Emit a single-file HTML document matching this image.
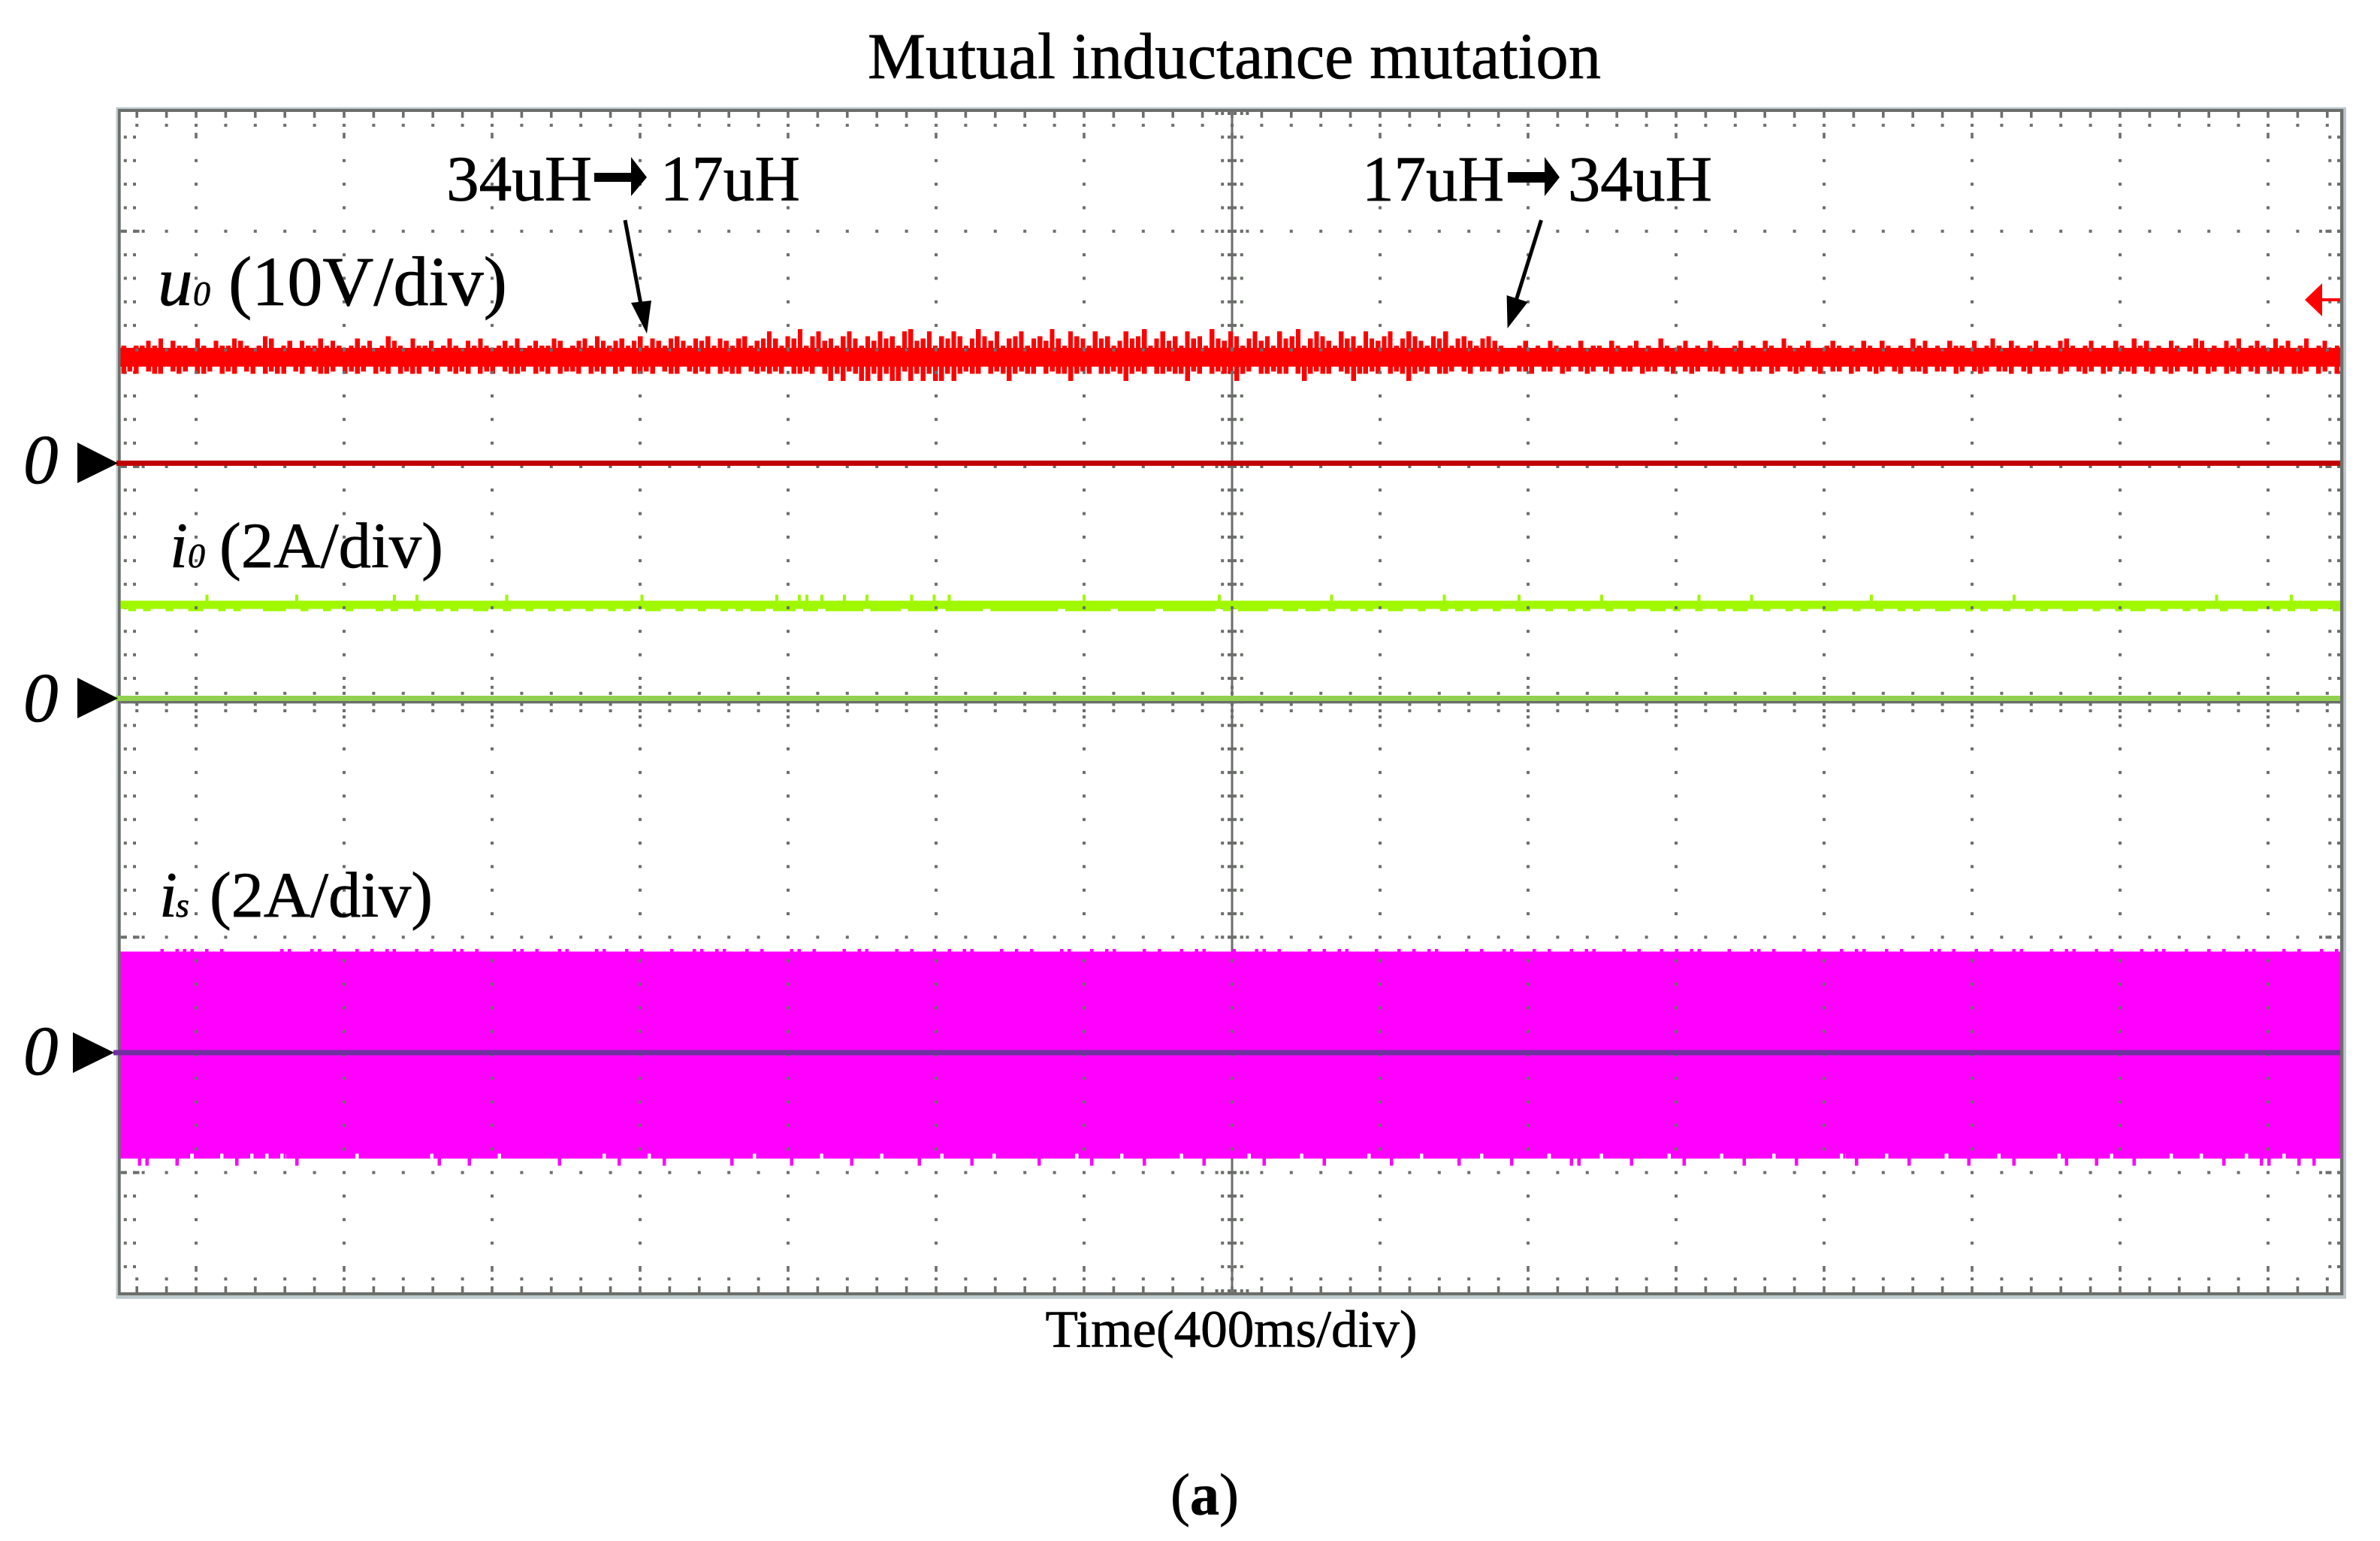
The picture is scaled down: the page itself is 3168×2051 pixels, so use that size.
<!DOCTYPE html>
<html lang="en">
<head>
<meta charset="utf-8">
<title>Mutual inductance mutation</title>
<style>
html,body{margin:0;padding:0;background:#fff;}
svg{display:block;}
text{font-family:"Liberation Serif","Times New Roman",serif;fill:#000;stroke:#000;stroke-width:0.7px;}
</style>
</head>
<body>
<svg id="scope" xmlns="http://www.w3.org/2000/svg" width="3168" height="2051" viewBox="0 0 3168 2051">
  <rect x="0" y="0" width="3168" height="2051" fill="#fff"/>
  <rect x="154.5" y="142.7" width="2968.5" height="1586" fill="#bcc8cc"/>
  <rect x="157" y="145" width="2962.3" height="1579" fill="#6b6e6a"/>
  <rect x="160.7" y="149" width="2954.3" height="1571" fill="#fff"/>
  <rect x="1638.5" y="149" width="3" height="1571" fill="#6b6e6a"/>
  <rect x="160.7" y="933" width="2954.3" height="3.3" fill="#6b6e6a"/>
  <g id="under"></g>
  <g id="traces"></g>
  <g id="over"></g>

  <rect x="155" y="613" width="2960" height="7" fill="#c00000"/>
  <rect x="154" y="926" width="2961" height="7" fill="#92d050"/>
  <rect x="151" y="1397.5" width="2964" height="7" fill="#7030a0"/>

  <polygon points="103,589 157,616.5 103,643" fill="#000"/>
  <polygon points="103,902 157,929.5 103,956" fill="#000"/>
  <polygon points="97,1374 152,1401 97,1428" fill="#000"/>
  <text x="31" y="643" font-size="93" font-style="italic">0</text>
  <text x="31" y="960" font-size="93" font-style="italic">0</text>
  <text x="31" y="1430" font-size="93" font-style="italic">0</text>

  <g>
    <rect x="3091" y="397" width="24" height="4" fill="#ff0000"/>
    <polygon points="3068,399 3091,377 3091,421" fill="#ff0000"/>
  </g>

  <text x="1155" y="104" font-size="86.5" textLength="976" lengthAdjust="spacingAndGlyphs">Mutual inductance mutation</text>

  <text x="594" y="266.5" font-size="86" textLength="194" lengthAdjust="spacingAndGlyphs">34uH</text>
  <g>
    <rect x="791" y="230" width="52" height="12" fill="#000"/>
    <polygon points="840,209 861,236 840,261" fill="#000"/>
  </g>
  <text x="879" y="266.5" font-size="86" textLength="186" lengthAdjust="spacingAndGlyphs">17uH</text>

  <text x="1813" y="267" font-size="86" textLength="189" lengthAdjust="spacingAndGlyphs">17uH</text>
  <g>
    <rect x="2007" y="229" width="52" height="14" fill="#000"/>
    <polygon points="2056,209 2076,236 2056,261" fill="#000"/>
  </g>
  <text x="2087" y="267" font-size="86" textLength="192" lengthAdjust="spacingAndGlyphs">34uH</text>

  <g>
    <line x1="832" y1="293" x2="853" y2="405" stroke="#000" stroke-width="5"/>
    <polygon points="840,403 867,400 861,444" fill="#000"/>
  </g>
  <g>
    <line x1="2051.5" y1="293" x2="2018" y2="400" stroke="#000" stroke-width="5"/>
    <polygon points="2005.6,393 2033.7,402 2006.6,437" fill="#000"/>
  </g>

  <g>
    <text x="210" y="406" font-size="93" font-style="italic">u</text>
    <text x="257" y="406" font-size="46" font-style="italic">0</text>
    <text x="304" y="406" font-size="93" textLength="371" lengthAdjust="spacingAndGlyphs">(10V/div)</text>
  </g>
  <g>
    <text x="226" y="755" font-size="86" font-style="italic">i</text>
    <text x="250" y="755" font-size="46" font-style="italic">0</text>
    <text x="292" y="755" font-size="86" textLength="298" lengthAdjust="spacingAndGlyphs">(2A/div)</text>
  </g>
  <g>
    <text x="212" y="1220" font-size="86" font-style="italic">i</text>
    <text x="234" y="1220" font-size="46" font-style="italic">s</text>
    <text x="279" y="1220" font-size="86" textLength="297" lengthAdjust="spacingAndGlyphs">(2A/div)</text>
  </g>

  <text x="1391.5" y="1792.5" font-size="70" textLength="495" lengthAdjust="spacingAndGlyphs">Time(400ms/div)</text>
  <text x="1558" y="2015.5" font-size="78">(<tspan font-weight="bold">a</tspan>)</text>
</svg>

<script>
// u0 trace: envelope per sample, in tenths of a volt above the channel zero
const u0Upper = [
50,49,50,50,52,50,53,49,52,50,50,49,53,50,49,52,50,50,53,52,
50,49,50,54,53,49,50,52,49,52,50,50,53,50,52,50,49,50,53,50,
52,49,50,54,52,50,49,53,50,50,52,49,50,53,50,49,52,50,53,50,
49,50,52,50,53,49,50,52,50,50,53,52,49,50,52,53,50,54,52,50,
52,53,50,52,54,50,53,52,50,53,54,52,50,53,52,54,50,53,52,50,53,54,50,52,53,
56,53,50,54,53,57,50,54,56,52,53,50,54,56,53,50,54,52,56,53,
54,50,56,57,52,53,56,50,54,53,56,54,50,53,57,54,52,56,50,53,
54,56,50,53,54,52,57,53,50,56,54,53,50,56,53,54,50,52,56,53,
54,57,50,53,56,52,54,50,56,53,54,50,57,53,52,56,54,50,53,56,
52,54,50,56,53,54,57,50,53,56,54,52,50,56,53,54,50,56,53,52,
54,56,50,53,56,54,52,50,54,53,56,50,53,54,52,50,53,54,52,50,
49,49,50,52,49,50,49,52,50,49,50,49,52,49,50,50,49,52,50,49,
50,52,49,50,49,53,50,49,50,52,49,50,49,52,50,49,49,50,52,49,
50,49,52,50,49,53,50,49,50,52,49,49,50,52,50,49,50,49,52,50,
49,52,50,49,50,49,53,50,52,49,50,49,52,50,50,49,52,49,50,53,
50,49,52,50,49,50,52,49,50,49,52,53,50,49,50,52,49,50,49,52,
50,49,53,50,52,49,50,49,52,50,49,50,53,52,49,50,49,52,50,53,
49,50,52,50,49,53,50,52,49,50,53,49,50,52,49,50,49,52,50,53,50,52,49,50,49
];
const u0Lower = [
38,39,38,41,39,38,38,41,39,38,39,41,38,38,39,41,38,39,38,41,
39,38,41,38,39,38,38,41,39,38,41,39,38,38,39,41,38,39,38,39,
41,38,39,38,41,38,39,38,38,41,39,38,41,39,38,39,38,41,38,39,
38,41,39,38,38,39,41,38,39,38,41,38,39,39,38,41,38,39,38,41,
38,39,41,38,38,39,38,41,39,38,38,41,39,38,39,38,41,38,39,38,38,41,39,38,39,
38,39,38,41,38,38,39,38,41,38,
35,38,35,39,38,35,35,38,35,38,35,35,39,35,38,35,38,35,35,38,35,
38,39,38,38,41,38,39,38,35,38,39,38,38,41,38,39,38,38,35,38,
39,38,41,38,38,39,38,35,38,39,38,41,38,38,39,38,38,35,39,38,
41,38,39,38,38,35,38,39,41,38,38,39,38,38,41,38,35,38,39,38,
38,41,39,38,35,38,38,39,38,41,38,39,38,35,38,39,38,41,38,38,
39,41,39,38,41,39,39,41,38,39,41,39,39,38,41,39,39,41,38,39,
41,39,38,39,41,39,38,41,39,39,41,38,39,39,41,39,38,41,39,38,
39,41,39,39,38,41,39,38,41,39,39,41,38,39,41,39,38,39,41,39,
38,41,39,39,41,38,39,41,39,38,39,41,39,38,41,39,39,38,41,39,
39,41,38,39,41,39,38,39,41,39,39,38,41,39,38,41,39,39,41,38,
39,41,39,38,39,41,38,39,41,39,39,38,41,39,38,41,39,38,39,41,
39,38,41,38,39,41,38,39,38,41,39,38,41,38,39,38,41,38,38,39,41,38,39,41,38
];
// u0 solid core of the band, tenths of a volt
const u0Core = [49, 41];

// i0 trace: envelope per sample, in hundredths of an ampere
const i0Upper = [
83,83,83,83,83,83,83,83,83,83,83,88,83,83,83,83,83,83,83,83,
83,83,83,88,83,83,83,83,83,83,83,83,83,83,83,83,88,83,83,88,
83,83,83,83,83,83,83,83,83,83,83,88,83,83,83,83,83,83,83,83,
83,83,83,83,83,83,83,83,83,88,83,83,83,83,83,83,83,83,83,83,
83,83,83,83,83,83,83,88,83,83,88,88,83,88,83,83,88,83,83,88,
83,83,83,83,83,88,83,83,88,83,88,83,83,83,83,83,83,83,83,83,
83,83,83,83,83,83,83,83,88,83,83,83,83,83,83,83,83,83,83,83,
83,83,83,83,83,83,88,83,83,83,83,83,83,83,83,83,83,83,83,83,
83,88,83,83,83,83,83,83,83,83,83,83,83,83,83,83,88,83,83,83,
83,83,83,83,83,83,88,83,83,83,83,83,83,83,83,83,83,88,83,83,
83,83,83,83,83,83,83,83,83,83,88,83,83,83,83,83,83,88,83,83,
83,83,83,83,83,83,83,83,83,83,83,83,83,88,83,83,83,83,83,83,
83,83,83,83,83,83,83,83,83,83,83,83,88,83,83,83,83,83,83,83,
83,83,83,83,83,83,83,83,83,83,83,83,83,83,83,83,83,83,83,88,
83,83,83,83,83,83,83,83,83,88,83,83,83,83,83,83
];
const i0Lower = [
76,74,76,74,76,76,74,76,76,74,74,76,76,74,76,74,76,76,76,74,
74,74,76,76,74,76,76,74,76,76,74,76,76,76,74,76,74,76,76,74,
76,76,74,76,74,76,76,74,74,76,76,74,76,76,74,76,76,74,76,74,
76,76,74,76,76,74,76,74,76,76,74,74,76,76,74,76,76,74,76,76,
74,76,74,76,74,74,76,74,74,74,76,74,74,76,74,74,74,74,74,76,
74,74,74,74,76,74,74,74,74,76,74,74,74,74,74,76,74,74,74,74,
74,74,74,74,74,76,74,74,74,74,74,74,76,74,74,74,74,74,76,74,
74,74,74,74,74,74,76,74,76,74,74,74,74,76,76,74,74,76,74,74,
76,74,76,76,74,76,74,76,76,74,74,76,76,74,76,76,74,76,74,76,
74,76,76,74,76,76,74,74,76,76,74,76,76,74,76,74,76,76,74,76,
76,74,76,76,74,74,76,74,76,76,74,76,76,74,76,74,74,76,76,74,
76,76,74,76,74,76,76,74,74,76,76,74,76,76,74,76,76,74,76,74,
76,76,74,74,76,76,74,76,74,76,76,74,76,76,74,76,74,76,76,74,
74,76,76,74,76,76,74,76,74,74,76,76,74,76,76,74,76,74,76,76,
74,76,76,74,74,76,76,74,76,74,76,76,74,76,76,74
];
// i0 solid core of the band, hundredths of an ampere
const i0Core = [83, 76];

// is trace: envelope per sample, in hundredths of an ampere
const isUpper = [
86,86,86,86,86,88,86,88,88,88,86,88,86,88,86,86,86,86,86,86,
86,88,88,86,86,88,88,86,88,86,86,88,86,88,86,88,88,86,86,88,
86,88,86,86,88,88,86,88,86,86,86,86,88,88,86,88,86,86,88,88,
86,86,86,88,88,86,86,88,86,88,86,86,86,88,86,86,88,88,86,88,
88,86,86,88,86,88,86,86,86,88,88,86,88,86,86,86,88,86,88,88,
86,86,86,88,86,88,86,86,88,86,88,86,88,88,86,86,86,88,86,88,
86,88,86,86,86,88,88,86,86,88,86,88,88,86,86,86,88,86,88,86,
86,88,86,88,88,86,86,86,88,86,86,88,88,86,88,86,86,86,88,86,
88,86,88,88,86,86,86,88,86,86,88,86,88,86,88,88,86,86,86,88,
86,88,86,86,88,88,86,86,88,86,88,86,86,88,86,88,88,86,86,86,
88,86,88,86,86,88,86,88,86,88,88,86,86,86,88,86,86,88,88,86,
88,86,86,86,88,86,88,86,86,88,86,88,88,86,86,88,86,88,86,86,
86,88,88,86,88,86,86,88,86,88,86,86,88,88,86,86,86,88,86,88,
88,86,86,88,86,88,86,86,86,88,86,88,88,86,86,88,86,86,88,86,
88,86,86,88,88,86,86,86,88,86,88,86,86,88,86,88
];
const isLower = [
-90,-90,-96,-96,-90,-90,-90,-96,-90,-86,-90,-90,-90,-86,-90,-96,-90,-86,-90,-86,
-90,-86,-90,-96,-90,-90,-90,-90,-90,-90,-90,-86,-90,-90,-90,-90,-90,-90,-90,-90,
-90,-86,-96,-90,-90,-90,-96,-90,-90,-90,-86,-90,-90,-90,-90,-90,-90,-90,-96,-90,
-90,-90,-90,-90,-86,-90,-96,-90,-90,-90,-86,-90,-96,-90,-90,-90,-90,-90,-90,-90,
-90,-96,-90,-90,-86,-90,-90,-90,-90,-96,-90,-90,-90,-86,-90,-90,-90,-96,-90,-90,
-90,-86,-90,-90,-90,-90,-96,-90,-90,-86,-90,-90,-90,-96,-90,-90,-86,-90,-90,-90,
-90,-90,-96,-90,-90,-90,-90,-86,-90,-96,-90,-90,-90,-86,-90,-90,-96,-90,-90,-90,
-90,-86,-90,-90,-96,-90,-90,-90,-90,-90,-86,-90,-96,-90,-90,-90,-90,-86,-90,-90,
-96,-90,-90,-90,-90,-90,-86,-90,-90,-96,-90,-90,-90,-86,-90,-90,-90,-90,-96,-90,
-90,-86,-90,-90,-90,-96,-90,-90,-90,-90,-86,-90,-90,-96,-96,-90,-90,-86,-90,-90,
-90,-96,-90,-90,-90,-90,-86,-90,-96,-90,-90,-90,-90,-86,-90,-90,-96,-90,-90,-90,
-86,-90,-90,-96,-90,-90,-90,-90,-90,-86,-90,-96,-90,-90,-90,-86,-90,-90,-96,-90,
-90,-90,-90,-86,-90,-90,-96,-90,-90,-90,-86,-90,-96,-90,-90,-90,-90,-90,-86,-96,
-90,-90,-90,-96,-90,-86,-90,-90,-96,-90,-90,-90,-90,-86,-90,-90,-90,-86,-90,-90,
-96,-90,-90,-86,-90,-96,-96,-90,-86,-90,-96,-90,-96,-90,-90,-90
];
// is solid core and the usual lower edge, hundredths of an ampere
const isCore = [86, -86];
const isEdge = [-90];

// Axis functions
const plotLeft = 160.7, plotRight = 3115;
const divPx = 313.3;
const xSample = (i, n) => plotLeft + (i + 0.5) * (plotRight - plotLeft) / n;
const yU0 = v => 616.5 - (v / 10) * (divPx / 10);    // tenths of a volt, 10 V/div
const yI0 = v => 929.5 - (v / 100) * (divPx / 2);    // hundredths of an ampere, 2 A/div
const yIs = v => 1401 - (v / 100) * (divPx / 2);     // hundredths of an ampere, 2 A/div
const xMinor = n => 182.2 + 39.4 * n;                // 75 minor ticks, 5 per division
const yMinor = k => 182.5 + 31.32 * k;               // 49 minor ticks, 10 per division

const NS = 'http://www.w3.org/2000/svg';
function rectD(x, y, w, h) {
  return 'M' + x.toFixed(1) + ' ' + y.toFixed(1) + 'h' + w.toFixed(1) + 'v' + h.toFixed(1) + 'h' + (-w).toFixed(1) + 'z';
}
// solid core band plus one column per sample above and below it
function bandD(upper, lower, core, yFn, upW, lowW) {
  let d = rectD(plotLeft, yFn(core[0]), plotRight - plotLeft, yFn(core[1]) - yFn(core[0]));
  const n = Math.min(upper.length, lower.length);
  for (let i = 0; i < n; i++) {
    const x = xSample(i, n);
    if (upper[i] > core[0]) d += rectD(x - upW / 2, yFn(upper[i]), upW, yFn(core[0]) - yFn(upper[i]) + 0.5);
    if (lower[i] < core[1]) d += rectD(x - lowW / 2, yFn(core[1]) - 0.5, lowW, yFn(lower[i]) - yFn(core[1]) + 0.5);
  }
  return d;
}
// is band: continuous lower edge with narrow notches and narrow spikes
function isBandD(upper, lower, core, edge, yFn, spikeW) {
  let d = rectD(plotLeft, yFn(core[0]), plotRight - plotLeft, yFn(core[1]) - yFn(core[0]));
  const n = Math.min(upper.length, lower.length);
  const bin = (plotRight - plotLeft) / n;
  for (let i = 0; i < n; i++) {
    const x = xSample(i, n);
    const stripH = yFn(edge[0]) - yFn(core[1]) + 0.5;
    if (upper[i] > core[0]) d += rectD(x - spikeW / 2, yFn(upper[i]), spikeW, yFn(core[0]) - yFn(upper[i]) + 0.5);
    if (lower[i] >= core[1]) {
      d += rectD(x - bin / 2, yFn(core[1]) - 0.5, (bin - spikeW) / 2, stripH);
      d += rectD(x + spikeW / 2, yFn(core[1]) - 0.5, (bin - spikeW) / 2, stripH);
    } else {
      d += rectD(x - bin / 2, yFn(core[1]) - 0.5, bin + 0.4, stripH);
      if (lower[i] < edge[0]) d += rectD(x - spikeW / 2, yFn(edge[0]) - 0.5, spikeW, yFn(lower[i]) - yFn(edge[0]) + 0.5);
    }
  }
  return d;
}

// u0 trace
const u0Path = document.createElementNS(NS, 'path');


u0Path.setAttribute('fill', '#ff0000');
u0Path.setAttribute('shape-rendering', 'crispEdges');
u0Path.setAttribute('d', bandD(u0Upper, u0Lower, u0Core, yU0, 6.2, 6.5));
document.getElementById('traces').appendChild(u0Path);

// i0 trace
const i0Path = document.createElementNS(NS, 'path');


i0Path.setAttribute('fill', '#a0f800');
i0Path.setAttribute('shape-rendering', 'crispEdges');
i0Path.setAttribute('d', bandD(i0Upper, i0Lower, i0Core, yI0, 4, 10.2));
document.getElementById('traces').appendChild(i0Path);

// is trace
const isPath = document.createElementNS(NS, 'path');


isPath.setAttribute('fill', '#ff00ff');
isPath.setAttribute('shape-rendering', 'crispEdges');
isPath.setAttribute('d', isBandD(isUpper, isLower, isCore, isEdge, yIs, 4.5));
document.getElementById('traces').appendChild(isPath);

// Graticule marks hidden by traces: edge columns and centre column neighbours
let underD = '';
for (let k = 0; k <= 48; k++) {
  const y = yMinor(k);
  underD += rectD(164.8, y - 2, 4, 4) + rectD(177, y - 2, 4, 4) + rectD(3099.3, y - 2, 4, 4) + rectD(3111, y - 2, 4, 4);
  underD += rectD(1625.2, y - 2, 4, 4) + rectD(1634, y - 2, 4, 4) + rectD(1642, y - 2, 4, 4) + rectD(1650.8, y - 2, 4, 4);
}
const underPath = document.createElementNS(NS, 'path');


underPath.setAttribute('fill', '#6b6e6a');
underPath.setAttribute('d', underD);
document.getElementById('under').appendChild(underPath);

// Graticule marks on top of the traces
let overD = '';
const fullRows = [4, 14, 34, 44];
for (let n = 0; n <= 74; n++) {
  const x = xMinor(n);
  overD += rectD(x - 1.8, 149, 3.6, 7.7);
  overD += rectD(x - 1.8, 1712, 3.6, 8);
  overD += rectD(x - 2, 164.7, 4, 4);
  overD += rectD(x - 2, 1700.3, 4, 4);
  overD += rectD(x - 2, 463.7, 4, 4);
  overD += rectD(x - 2, 920.7, 4, 4);
  overD += rectD(x - 2, 935.5, 4, 4);
  overD += rectD(x - 2, 944, 4, 4);
  for (const k of fullRows) {
    overD += rectD(x - 2, yMinor(k) - 2, 4, 4);
  }
  if (n % 5 === 2) {
    for (let k = 0; k <= 48; k++) {
      if (k === 0) overD += rectD(x - 1.8, 176.7, 3.6, 7.6);
      else if (k === 48) overD += rectD(x - 1.8, 1685, 3.6, 7.6);
      else overD += rectD(x - 2, yMinor(k) - 2, 4, 4);
    }
    overD += rectD(x - 2, 912.7, 4, 4);
    overD += rectD(x - 2, 952.3, 4, 4);
  }
}
for (const y of [151, 1718, yMinor(4), yMinor(14), yMinor(34), yMinor(44)]) {
  for (const dx of [-20.4, -12.8, -4, 4, 12.8, 20.4]) {
    overD += rectD(1640 + dx - 2, y - 2, 4, 4);
  }
}
for (const k of fullRows) {
  const y = yMinor(k);
  overD += rectD(160.7, y - 2, 8, 4) + rectD(177.5, y - 2, 8, 4) + rectD(188.6, y - 2, 4, 4);
  overD += rectD(3087, y - 2, 4, 4) + rectD(3095.5, y - 2, 8, 4) + rectD(3111, y - 2, 4, 4);
}
const overPath = document.createElementNS(NS, 'path');


overPath.setAttribute('fill', '#6b6e6a');
overPath.setAttribute('d', overD);
document.getElementById('over').appendChild(overPath);
</script>
</body>
</html>
